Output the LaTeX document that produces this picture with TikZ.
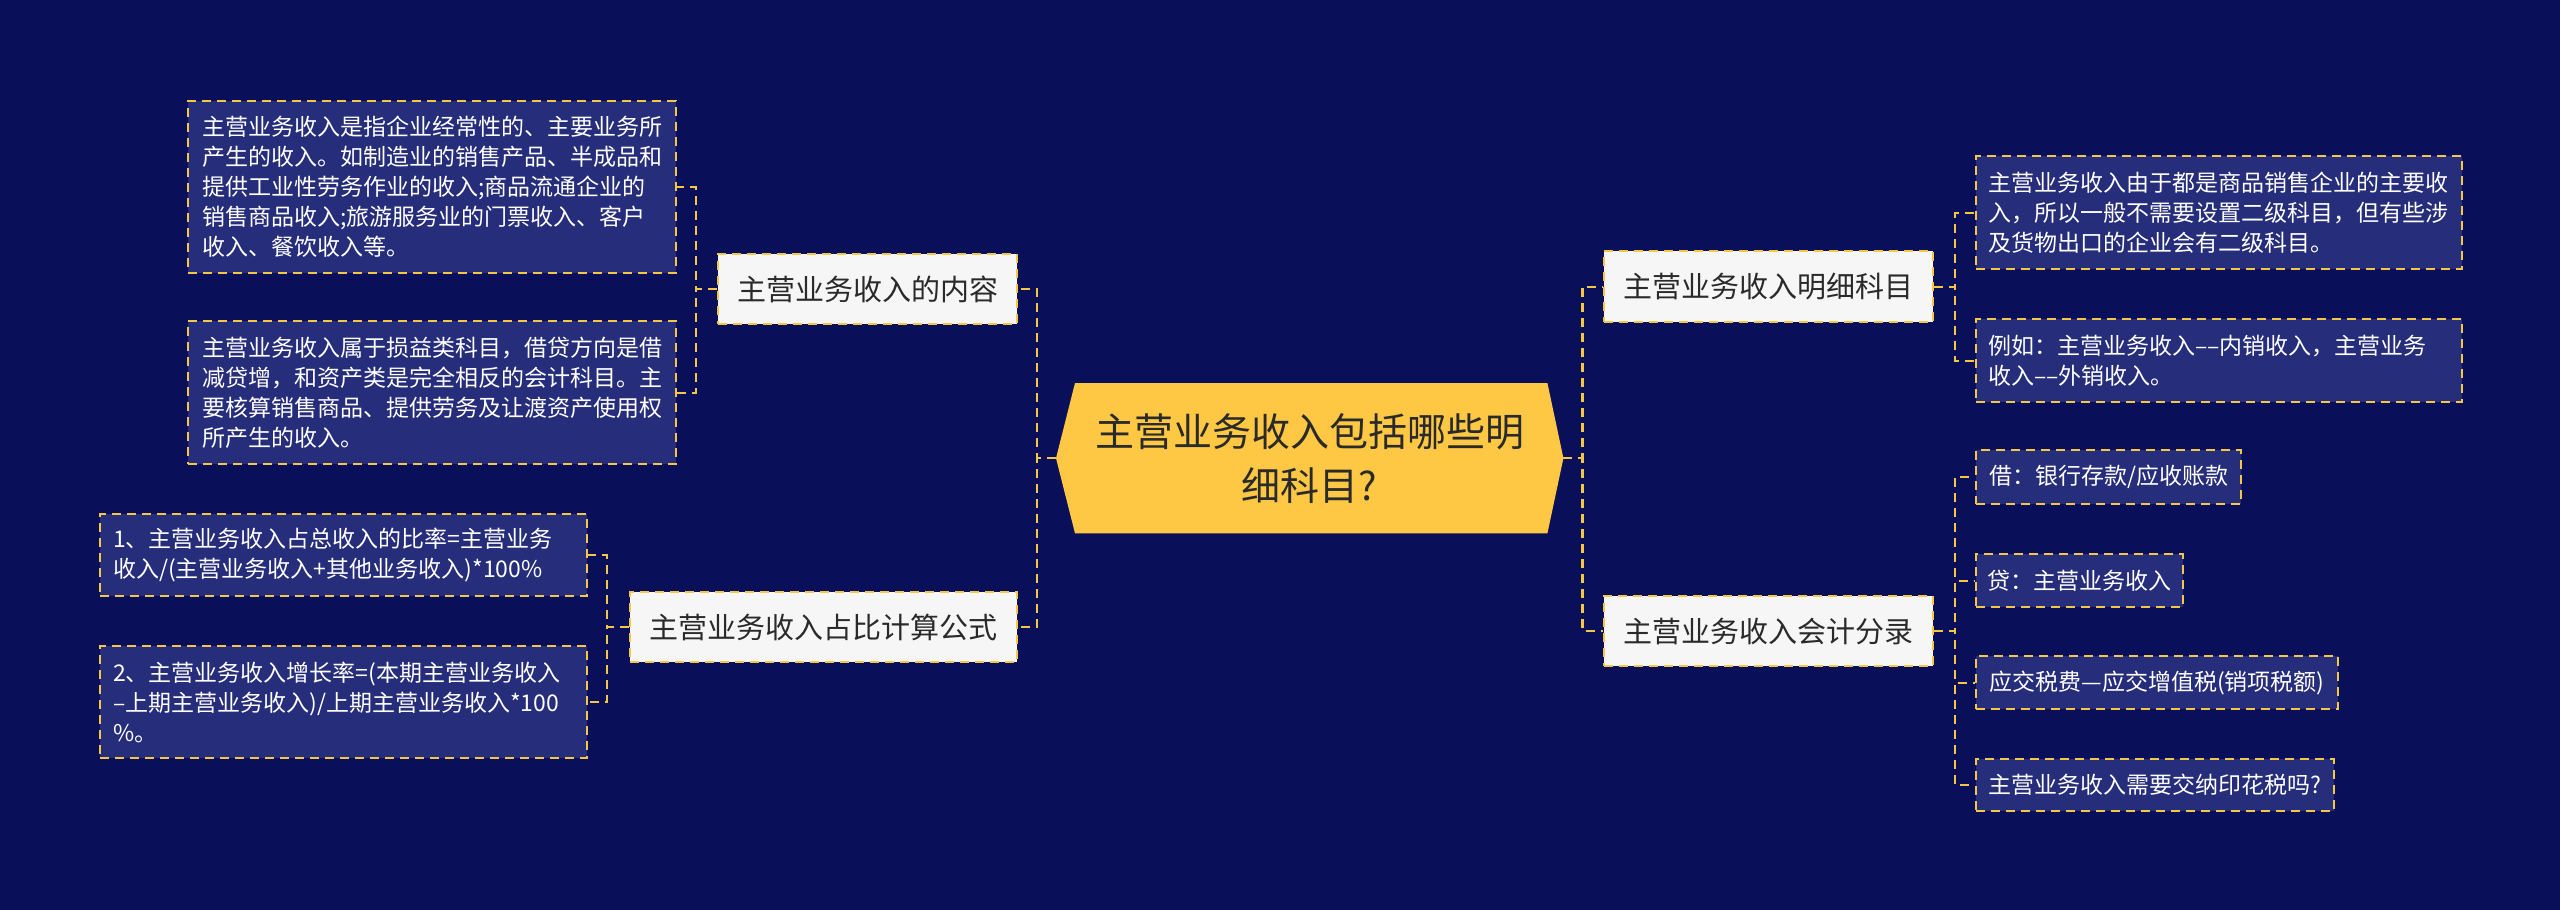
\documentclass[tikz,border=0pt]{standalone}
\usepackage{fontspec}
\setmainfont{Noto Sans CJK SC}
\usetikzlibrary{calc,backgrounds}
\definecolor{bgc}{HTML}{0A0F59}
\definecolor{leafc}{HTML}{262D7B}
\definecolor{goldc}{HTML}{F5C746}
\definecolor{rootc}{HTML}{FFC844}
\definecolor{lvc}{HTML}{F6F6F6}
\definecolor{darkc}{HTML}{2A2A2A}
\begin{document}
\begin{tikzpicture}[x=1pt,y=-1pt,
  dashline/.style={draw=goldc, line width=2.2pt, dash pattern=on 9pt off 6pt},
  leafbox/.style={dashline, anchor=north west, fill=leafc, text=white,
    font=\fontsize{23}{30}\selectfont, align=left, inner xsep=14pt, inner ysep=0pt},
  lvbox/.style={dashline, anchor=north west, fill=lvc, text=darkc,
    font=\fontsize{29}{36}\selectfont, inner sep=0pt},
  conn/.style={dashline}]
\useasboundingbox (0,0) rectangle (2560,910);
\begin{scope}[on background layer]
\fill[bgc] (0,0) rectangle (2560,910);
\end{scope}

% root
\node[anchor=north west, minimum width=507pt, minimum height=150pt, inner sep=0pt,
  align=center, font=\fontsize{39}{54}\selectfont, text=darkc] (root) at (1056,383)
  {主营业务收入包括哪些明\\细科目?};
\begin{scope}[on background layer]
\fill[rootc] (root.west) -- ($(root.north west)+(19,0)$) -- ($(root.north east)+(-16,0)$)
  -- (root.east) -- ($(root.south east)+(-16,0)$) -- ($(root.south west)+(19,0)$) -- cycle;
\end{scope}

% level 1
\node[lvbox, minimum width=299pt, minimum height=70pt] (A) at (717,253) {主营业务收入的内容};
\node[lvbox, minimum width=387pt, minimum height=70pt] (B) at (629,591) {主营业务收入占比计算公式};
\node[lvbox, minimum width=329pt, minimum height=71pt] (C) at (1603,250) {主营业务收入明细科目};
\node[lvbox, minimum width=329pt, minimum height=70pt] (D) at (1603,595) {主营业务收入会计分录};

% left leaves
\node[leafbox, text width=460pt, minimum height=172pt] (la1) at (187,100)
  {主营业务收入是指企业经常性的、主要业务所\\产生的收入。如制造业的销售产品、半成品和\\提供工业性劳务作业的收入;商品流通企业的\\销售商品收入;旅游服务业的门票收入、客户\\收入、餐饮收入等。};
\node[leafbox, text width=460pt, minimum height=143pt] (la2) at (187,320)
  {主营业务收入属于损益类科目，借贷方向是借\\减贷增，和资产类是完全相反的会计科目。主\\要核算销售商品、提供劳务及让渡资产使用权\\所产生的收入。};
\node[leafbox, inner xsep=13pt, text width=461pt, minimum height=82pt] (lb1) at (99,513)
  {1、主营业务收入占总收入的比率=主营业务\\收入/(主营业务收入+其他业务收入)*100\%};
\node[leafbox, inner xsep=13pt, text width=461pt, minimum height=112pt] (lb2) at (99,645)
  {2、主营业务收入增长率=(本期主营业务收入\\–上期主营业务收入)/上期主营业务收入*100\\\%。};

% right leaves
\node[leafbox, inner xsep=12pt, text width=462pt, minimum height=113pt] (rc1) at (1975,155)
  {主营业务收入由于都是商品销售企业的主要收\\入，所以一般不需要设置二级科目，但有些涉\\及货物出口的企业会有二级科目。};
\node[leafbox, inner xsep=12pt, text width=462pt, minimum height=83pt] (rc2) at (1975,318)
  {例如：主营业务收入–{}–内销收入，主营业务\\收入–{}–外销收入。};
\node[leafbox, inner xsep=11pt, minimum width=265pt, minimum height=54pt] (rd1) at (1975,449)
  {借：银行存款/应收账款};
\node[leafbox, inner xsep=11pt, minimum width=207pt, minimum height=53pt] (rd2) at (1975,553)
  {贷：主营业务收入};
\node[leafbox, inner xsep=11pt, minimum width=362pt, minimum height=53pt] (rd3) at (1975,655)
  {应交税费—应交增值税(销项税额)};
\node[leafbox, inner xsep=11pt, minimum width=358pt, minimum height=52pt] (rd4) at (1975,758)
  {主营业务收入需要交纳印花税吗?};

% connectors
\draw[conn] (root.west) -- ++(-19,0) |- (A.east);
\draw[conn] (root.west) -- ++(-19,0) |- (B.east);
\draw[conn] (root.east) -- ++(19,0) |- (C.west);
\draw[conn] (root.east) -- ++(19,0) |- (D.west);
\draw[conn] (A.west) -- ++(-21,0) |- (la1.east);
\draw[conn] (A.west) -- ++(-21,0) |- (la2.east);
\draw[conn] (B.west) -- ++(-22,0) |- (lb1.east);
\draw[conn] (B.west) -- ++(-22,0) |- (lb2.east);
\draw[conn] (C.east) -- ++(21,0) |- (rc1.west);
\draw[conn] (C.east) -- ++(21,0) |- (rc2.west);
\draw[conn] (D.east) -- ++(21,0) |- (rd1.west);
\draw[conn] (D.east) -- ++(21,0) |- (rd2.west);
\draw[conn] (D.east) -- ++(21,0) |- (rd3.west);
\draw[conn] (D.east) -- ++(21,0) |- (rd4.west);
\end{tikzpicture}
\end{document}
